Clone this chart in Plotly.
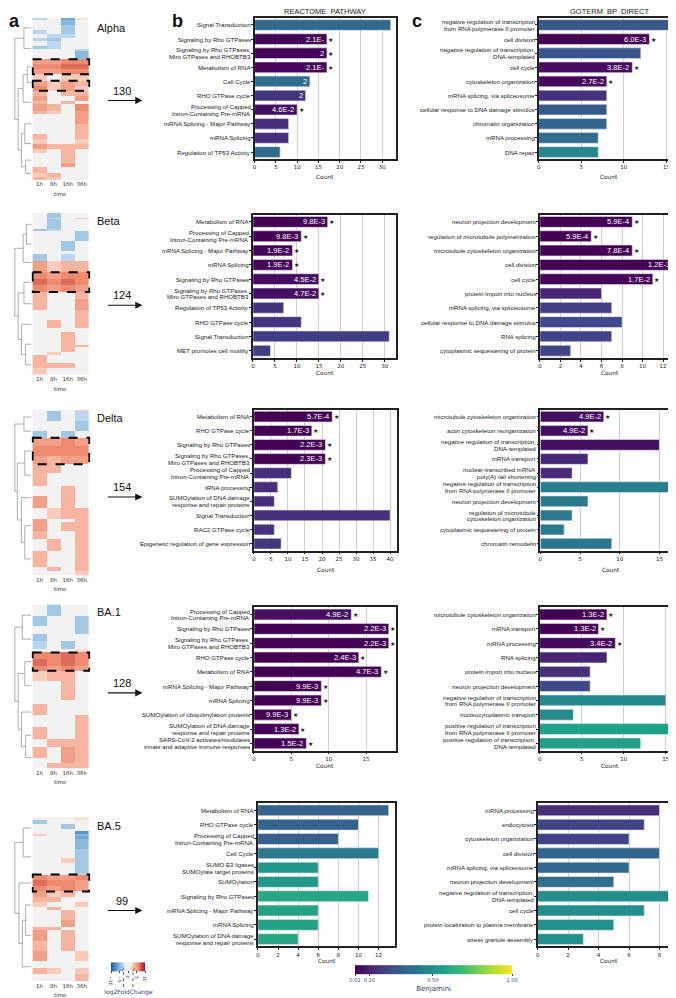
import plotly.graph_objects as go

W, H = 676, 998
def fx(p): return p / W
def fy(p): return 1 - p / H

FONT = "Liberation Sans, Arial, sans-serif"
DFONT = "DejaVu Sans, sans-serif"

variants = ["Alpha", "Beta", "Delta", "BA.1", "BA.5"]
cluster_sizes = [130, 124, 154, 128, 99]
time_labels = ["1h", "8h", "16h", "36h"]
benj_ticks = [0.01, 0.10, 0.50, 1.00]
fc_ticks = [-10, -5, 0, 5, 10]

# ---------------- REACTOME PATHWAY (panel b) ----------------
re_alpha_terms = ["Signal Transduction", "Signaling by Rho GTPases",
                  "Signaling by Rho GTPases,<br>Miro GTPases and RHOBTB3", "Metabolism of RNA",
                  "Cell Cycle", "RHO GTPase cycle", "Processing of Capped<br>Intron-Containing Pre-mRNA",
                  "mRNA Splicing - Major Pathway", "mRNA Splicing", "Regulation of TP53 Activity"]
re_alpha_count = [32, 17, 17, 17, 13, 12, 10, 8, 8, 6]
re_alpha_benj = [0.34, 0.021, 0.021, 0.021, 0.36, 0.16, 0.046, 0.14, 0.14, 0.35]
re_alpha_label = ["", "2.1E-", "2", "2.1E-", "2", "2", "4.6E-2", "", "", ""]
re_alpha_star = [0, 1, 1, 1, 0, 0, 1, 0, 0, 0]

re_beta_terms = ["Metabolism of RNA", "Processing of Capped<br>Intron-Containing Pre-mRNA",
                 "mRNA Splicing - Major Pathway", "mRNA Splicing", "Signaling by Rho GTPases",
                 "Signaling by Rho GTPases,<br>Miro GTPases and RHOBTB3", "Regulation of TP53 Activity",
                 "RHO GTPase cycle", "Signal Transduction", "MET promotes cell motility"]
re_beta_count = [17, 11, 9, 9, 15, 15, 7, 11, 31, 4]
re_beta_benj = [0.0098, 0.0098, 0.019, 0.019, 0.045, 0.047, 0.16, 0.16, 0.19, 0.19]
re_beta_label = ["9.8E-3", "9.8E-3", "1.9E-2", "1.9E-2", "4.5E-2", "4.7E-2", "", "", "", ""]
re_beta_star = [1, 1, 1, 1, 1, 1, 0, 0, 0, 0]

re_delta_terms = ["Metabolism of RNA", "RHO GTPase cycle", "Signaling by Rho GTPases",
                  "Signaling by Rho GTPases,<br>Miro GTPases and RHOBTB3",
                  "Processing of Capped<br>Intron-Containing Pre-mRNA", "tRNA processing",
                  "SUMOylation of DNA damage<br>response and repair proteins", "Signal Transduction",
                  "RAC2 GTPase cycle", "Epigenetic regulation of gene expression"]
re_delta_count = [23, 17, 21, 21, 11, 7, 6, 40, 6, 8]
re_delta_benj = [0.00057, 0.0017, 0.0022, 0.0023, 0.14, 0.14, 0.14, 0.15, 0.15, 0.17]
re_delta_label = ["5.7E-4", "1.7E-3", "2.2E-3", "2.3E-3", "", "", "", "", "", ""]
re_delta_star = [1, 1, 1, 1, 0, 0, 0, 0, 0, 0]

re_ba1_terms = ["Processing of Capped<br>Intron-Containing Pre-mRNA", "Signaling by Rho GTPases",
                "Signaling by Rho GTPases,<br>Miro GTPases and RHOBTB3", "RHO GTPase cycle",
                "Metabolism of RNA", "mRNA Splicing - Major Pathway", "mRNA Splicing",
                "SUMOylation of ubiquitinylation proteins",
                "SUMOylation of DNA damage<br>response and repair proteins",
                "SARS-CoV-2 activates/modulates<br>innate and adaptive immune responses"]
re_ba1_count = [13, 18, 18, 14, 17, 9, 9, 5, 6, 7]
re_ba1_benj = [0.049, 0.0022, 0.0022, 0.0024, 0.0047, 0.0099, 0.0099, 0.0099, 0.013, 0.015]
re_ba1_label = ["4.9E-2", "2.2E-3", "2.2E-3", "2.4E-3", "4.7E-3", "9.9E-3", "9.9E-3", "9.9E-3",
                "1.3E-2", "1.5E-2"]
re_ba1_star = [1, 1, 1, 1, 1, 1, 1, 1, 1, 1]

re_ba5_terms = ["Metabolism of RNA", "RHO GTPase cycle",
                "Processing of Capped<br>Intron-Containing Pre-mRNA", "Cell Cycle",
                "SUMO E3 ligases<br>SUMOylate target proteins", "SUMOylation", "Signaling by Rho GTPases",
                "mRNA Splicing - Major Pathway", "mRNA Splicing",
                "SUMOylation of DNA damage<br>response and repair proteins"]
re_ba5_count = [13, 10, 8, 12, 6, 6, 11, 6, 6, 4]
re_ba5_benj = [0.32, 0.32, 0.30, 0.41, 0.54, 0.54, 0.60, 0.58, 0.58, 0.60]
re_ba5_label = [""] * 10
re_ba5_star = [0] * 10

# ---------------- GOTERM BP DIRECT (panel c) ----------------
go_alpha_terms = ["negative regulation of transcription<br>from RNA polymerase II promoter", "cell division",
                  "negative regulation of transcription,<br>DNA-templated", "cell cycle",
                  "cytoskeleton organization", "mRNA splicing, via spliceosome",
                  "cellular response to DNA damage stimulus", "chromatin organization", "mRNA processing",
                  "DNA repair"]
go_alpha_count = [16, 13, 12, 11, 8, 8, 8, 8, 7, 7]
go_alpha_benj = [0.28, 0.006, 0.27, 0.038, 0.027, 0.15, 0.29, 0.33, 0.36, 0.47]
go_alpha_label = ["", "6.0E-3", "", "3.8E-2", "2.7E-2", "", "", "", "", ""]
go_alpha_star = [0, 1, 0, 1, 1, 0, 0, 0, 0, 0]

go_beta_terms = ["neuron projection development", "regulation of microtubule polymerization",
                 "microtubule cytoskeleton organization", "cell division", "cell cycle",
                 "protein import into nucleus", "mRNA splicing, via spliceosome",
                 "cellular response to DNA damage stimulus", "RNA splicing",
                 "cytoplasmic sequestering of protein"]
go_beta_count = [9, 5, 9, 13, 11, 6, 7, 8, 7, 3]
go_beta_benj = [0.00059, 0.00059, 0.00078, 0.0012, 0.017, 0.11, 0.20, 0.23, 0.21, 0.22]
go_beta_label = ["5.9E-4", "5.9E-4", "7.8E-4", "1.2E-3", "1.7E-2", "", "", "", "", ""]
go_beta_star = [1, 1, 1, 1, 1, 0, 0, 0, 0, 0]

go_delta_terms = ["microtubule cytoskeleton organization", "actin cytoskeleton reorganization",
                  "negative regulation of transcription,<br>DNA-templated", "mRNA transport",
                  "nuclear-transcribed mRNA<br>poly(A) tail shortening",
                  "negative regulation of transcription<br>from RNA polymerase II promoter",
                  "neuron projection development",
                  "regulation of microtubule<br>cytoskeleton organization",
                  "cytoplasmic sequestering of protein", "chromatin remodelin"]
go_delta_count = [8, 6, 15, 6, 4, 17, 6, 4, 3, 9]
go_delta_benj = [0.049, 0.049, 0.05, 0.12, 0.13, 0.43, 0.41, 0.41, 0.41, 0.40]
go_delta_label = ["4.9E-2", "4.9E-2", "", "", "", "", "", "", "", ""]
go_delta_star = [1, 1, 0, 0, 0, 0, 0, 0, 0, 0]

go_ba1_terms = ["microtubule cytoskeleton organization", "mRNA transport", "mRNA processing",
                "RNA splicing", "protein import into nucleus", "neuron projection development",
                "negative regulation of transcription<br>from RNA polymerase II promoter",
                "nucleocytoplasmic transport",
                "positive regulation of transcription<br>from RNA polymerase II promoter",
                "positive regulation of transcription,<br>DNA-templated"]
go_ba1_count = [8, 7, 9, 8, 6, 6, 15, 4, 16, 12]
go_ba1_benj = [0.013, 0.013, 0.034, 0.11, 0.14, 0.23, 0.48, 0.48, 0.57, 0.57]
go_ba1_label = ["1.3E-2", "1.3E-2", "3.4E-2", "", "", "", "", "", "", ""]
go_ba1_star = [1, 1, 1, 0, 0, 0, 0, 0, 0, 0]

go_ba5_terms = ["mRNA processing", "endocytosis", "cytoskeleton organization", "cell division",
                "mRNA splicing, via spliceosome", "neuron projection development",
                "negative regulation of transcription,<br>DNA-templated", "cell cycle",
                "protein localization to plasma membrane", "stress granule assembly"]
go_ba5_count = [8, 7, 6, 8, 6, 5, 9, 7, 5, 3]
go_ba5_benj = [0.14, 0.21, 0.21, 0.33, 0.34, 0.37, 0.50, 0.50, 0.51, 0.51]
go_ba5_label = [""] * 10
go_ba5_star = [0] * 10

# ---------------- heatmaps: runs of (rows, 1h, 8h, 16h, 36h) log2FC ----------------
hm_alpha = [(1, -3, 0, -6, 2), (3, -2, 0, -5, 0), (3, 0, 0, -4, 0), (3, -3, 0, -4, 0), (2, 0, -3, -3, 0),
            (2, -3, -4, 0, 0), (3, 0, -3, 0, 0), (2, -4, -3, 0, 0), (1, -2, 0, 0, -3), (5, 0, 0, 0, -5),
            (3, 5, 5, 6, 6), (3, 6, 6, 7, 7), (3, 5, 5, 6, 6), (4, 3, 0, 3, 3), (3, 5, 3, 5, 4),
            (3, 6, 3, 5, 3), (3, 4, 0, 4, 4), (3, 5, 0, 0, 5), (2, 4, 0, 4, 0), (4, 5, 4, 0, 6),
            (2, 4, 3, 0, 5), (6, 0, 0, 0, 5), (6, 0, 0, 0, 4), (3, 4, 0, 0, 4), (3, 3, 0, 0, 3),
            (3, 5, 4, 4, 4), (3, 3, 0, 4, 0), (6, 0, 0, 4, 0), (2, 0, 0, 5, 0), (4, 4, 0, 0, 0),
            (2, 3, 4, 0, 0), (2, 4, 3, 0, 0)]
hm_beta = [(3, 0, -4, -2, 0), (1, 0, -3, 0, 3), (6, 0, -4, 0, 0), (1, -4, -3, 0, 0), (6, 0, 0, 0, -4),
           (6, 0, 0, -4, 0), (2, -2, 0, -2, 0), (4, -4, 0, -3, 0), (7, 5, 3, 4, 4),
           (4, 6, 5, 6, 6), (4, 7, 6, 7, 6), (4, 6, 5, 6, 5),
           (4, 4, 0, 0, 4), (7, 4, 0, 0, 5), (6, 0, 0, 0, 4), (5, 0, 4, 0, 4), (2, 0, 0, 0, 0),
           (8, 0, 0, 4, 0), (1, 0, 0, 4, 4), (3, 0, 0, 4, 0), (2, 0, 3, 0, 0), (5, 4, 0, 0, 0),
           (3, 4, 4, 4, 0), (4, 3, 0, 0, 0)]
hm_delta = [(1, 0, 0, 0, 3), (6, 0, -4, 0, -3), (6, 0, 0, 0, -4), (4, -4, 0, -4, 0),
            (5, 5, 5, 6, 5), (6, 6, 6, 6, 6), (5, 5, 4, 5, 5),
            (5, 4, 4, 0, 0), (8, 4, 0, 0, 0), (6, 0, 0, 4, 0), (7, 5, 0, 4, 0), (7, 0, 3, 4, 4),
            (2, 5, 0, 0, 4), (5, 5, 0, 4, 4), (5, 4, 0, 0, 4), (7, 0, 4, 0, 4), (10, 4, 0, 0, 4),
            (2, 0, 4, 0, 4), (3, 0, 0, 0, 3)]
hm_ba1 = [(7, 0, -4, -1, 0), (6, -4, 0, 0, -4), (5, 0, 0, 0, -4), (4, -4, 0, 0, 0), (5, -3, 0, -4, 0),
          (2, 0, 0, 0, 2),
          (4, 6, 6, 7, 6), (4, 7, 6, 7, 6), (3, 6, 5, 6, 5),
          (6, 3, 4, 4, 0), (12, 0, 0, 4, 0), (2, 0, 0, 0, 0), (7, 4, 0, 0, 0), (7, 0, 0, 0, 4),
          (7, 4, 0, 0, 4), (5, 0, 4, 4, 4), (7, 4, 0, 5, 4), (3, 0, 0, 5, 4), (3, 0, 4, 4, 4)]
hm_ba5 = [(2, -2, -2, 0, 2), (2, -4, 0, -2, 0), (3, 0, 0, -4, 0), (1, -2, 0, 0, 0), (2, 0, 0, 0, -7),
          (1, 3, 0, 0, -5), (2, 0, 0, 0, -6), (6, 0, 0, 0, -5), (5, 0, 0, 0, -4), (3, 0, 0, 3, -4),
          (6, 0, 0, 0, -4), (1, -2, -2, -2, -3),
          (3, 6, 5, 5, 6), (4, 7, 6, 6, 5), (3, 6, 5, 6, 5),
          (3, 5, 3, 4, 0), (3, 4, 4, 0, 0), (3, 3, 0, 0, 3), (2, 0, 4, 0, 0), (6, 0, 0, 4, 0),
          (4, 0, 0, 5, 0), (2, 4, 4, 0, 0), (6, 5, 0, 4, 0), (6, 4, 0, 4, 0), (6, 5, 0, 0, 3),
          (4, 0, 0, 0, 0), (4, 4, 3, 0, 3), (4, 0, 0, 0, 4)]

# dashed cluster boxes (first row, last row)
box_alpha = [(25, 33), (38, 43)]
box_beta = [(36, 47)]
box_delta = [(17, 32)]
box_ba1 = [(29, 39)]
box_ba5 = [(34, 43)]

# dendrograms: leaf group boundaries (rows) and tree (height, left, right)
dg_alpha = [0, 12, 25, 34, 44, 58, 70, 82, 90, 98]
tr_alpha = (1.0, (0.45, 0, 1), (0.8, (0.5, (0.25, 2, 3), 4), (0.6, (0.4, 5, 6), (0.35, 7, 8))))
dg_beta = [0, 14, 24, 36, 48, 62, 73, 86, 98]
tr_beta = (1.0, (0.5, (0.3, 0, 1), 2), (0.8, (0.45, 3, 4), (0.6, 5, (0.35, 6, 7))))
dg_delta = [0, 9, 17, 33, 46, 60, 80, 100]
tr_delta = (1.0, (0.45, 0, 1), (0.85, (0.4, 2, 3), (0.6, 4, (0.4, 5, 6))))
dg_ba1 = [0, 13, 29, 40, 58, 72, 86, 99]
tr_ba1 = (1.0, (0.55, 0, 1), (0.8, (0.4, 2, 3), (0.6, 4, (0.35, 5, 6))))
dg_ba5 = [0, 13, 34, 44, 60, 80, 97]
tr_ba5 = (1.0, (0.5, 0, 1), (0.75, 2, (0.55, (0.35, 3, 4), 5)))

# ---------------- assemble ----------------
data_rows = [
    dict(re=(re_alpha_terms, re_alpha_count, re_alpha_benj, re_alpha_label, re_alpha_star),
         go=(go_alpha_terms, go_alpha_count, go_alpha_benj, go_alpha_label, go_alpha_star),
         hm=hm_alpha, box=box_alpha, dg=dg_alpha, tr=tr_alpha),
    dict(re=(re_beta_terms, re_beta_count, re_beta_benj, re_beta_label, re_beta_star),
         go=(go_beta_terms, go_beta_count, go_beta_benj, go_beta_label, go_beta_star),
         hm=hm_beta, box=box_beta, dg=dg_beta, tr=tr_beta),
    dict(re=(re_delta_terms, re_delta_count, re_delta_benj, re_delta_label, re_delta_star),
         go=(go_delta_terms, go_delta_count, go_delta_benj, go_delta_label, go_delta_star),
         hm=hm_delta, box=box_delta, dg=dg_delta, tr=tr_delta),
    dict(re=(re_ba1_terms, re_ba1_count, re_ba1_benj, re_ba1_label, re_ba1_star),
         go=(go_ba1_terms, go_ba1_count, go_ba1_benj, go_ba1_label, go_ba1_star),
         hm=hm_ba1, box=box_ba1, dg=dg_ba1, tr=tr_ba1),
    dict(re=(re_ba5_terms, re_ba5_count, re_ba5_benj, re_ba5_label, re_ba5_star),
         go=(go_ba5_terms, go_ba5_count, go_ba5_benj, go_ba5_label, go_ba5_star),
         hm=hm_ba5, box=box_ba5, dg=dg_ba5, tr=tr_ba5),
]

# layout geometry in pixels
geom = [
    dict(frame=(10, 152), heat=(10, 173), b=(245.7, 388, 33.3, 5), c=(531, 673, 16.6, 5),
         arrow=93, lab=20, cnt=18),
    dict(frame=(208, 352), heat=(206, 369), b=(244, 388, 32.6, 5), c=(532.3, 674, 13.75, 2),
         arrow=299, lab=214, cnt=15),
    dict(frame=(404, 546), heat=(404, 571), b=(245, 389, 42.1, 5), c=(532.7, 675, 17.85, 5),
         arrow=492, lab=412, cnt=19),
    dict(frame=(603, 747), heat=(600, 765), b=(245, 388, 19.0, 5), c=(532, 674, 16.8, 5),
         arrow=689, lab=608, cnt=16),
    dict(frame=(800, 944), heat=(814, 979), b=(249, 387, 13.66, 2), c=(530, 673, 9.35, 2),
         arrow=908, lab=823, cnt=15),
]

def an(k, a):
    return f"{a}axis" if k == 1 else f"{a}axis{k}"
def rf(k, a):
    return a if k == 1 else f"{a}{k}"

def expand(runs):
    z = []
    for r in runs:
        for _ in range(r[0]):
            z.append(list(r[1:]))
    return z

def dendro(groups, tree):
    xs, ys = [], []
    def walk(node):
        if isinstance(node, int):
            s, e = groups[node], groups[node + 1]
            return 0.0, (s + e - 1) / 2
        h, l, r = node
        x1, y1 = walk(l)
        x2, y2 = walk(r)
        xs.extend([x1, h, h, x2, None])
        ys.extend([y1, y1, y2, y2, None])
        return h, (y1 + y2) / 2
    walk(tree)
    return xs, ys

def ptext(text, x, y, size, family=FONT, color="#111", xanchor="center"):
    return dict(text=text, x=fx(x), y=fy(y), xref="paper", yref="paper", xanchor=xanchor,
                yanchor="middle", showarrow=False, font=dict(family=family, size=size, color=color))

fig = go.Figure()
lay = {}
anns = []
shapes = []

fc_scale = [[0.0, "#1b5aa5"], [0.2, "#6fa8d6"], [0.4, "#d6e7f4"], [0.4, "#f2f2f2"],
            [0.6, "#f2f2f2"], [0.6, "#fbe0d3"], [0.8, "#ee8a6d"], [1.0, "#a50f1f"]]

for i, (d, g) in enumerate(zip(data_rows, geom)):
    kh, kd, kb, kc = 4 * i + 1, 4 * i + 2, 4 * i + 3, 4 * i + 4
    # heatmap
    z = expand(d["hm"])
    n = len(z)
    fig.add_trace(go.Heatmap(z=z, x=time_labels, y=list(range(n)), coloraxis="coloraxis2",
                             xaxis=rf(kh, "x"), yaxis=rf(kh, "y"), hoverinfo="skip"))
    ht, hb = g["heat"]
    lay[an(kh, "x")] = dict(domain=[fx(21.7), fx(80.7)], anchor=rf(kh, "y"), showgrid=False,
                            zeroline=False, ticks="", tickfont=dict(family=DFONT, size=5.5, color="#333"),
                            showline=False)
    lay[an(kh, "y")] = dict(domain=[fy(hb), fy(ht)], anchor=rf(kh, "x"), range=[n - 0.5, -0.5],
                            showticklabels=False, showgrid=False, zeroline=False, ticks="")
    for (s, e) in d["box"]:
        shapes.append(dict(type="rect", xref=rf(kh, "x"), yref=rf(kh, "y"), x0=-0.5, x1=3.55,
                           y0=s - 0.5, y1=e + 0.5, line=dict(color="black", width=2, dash="dash")))
    anns.append(ptext("time", 51, hb + 14, 5.5, DFONT, "#333"))
    # dendrogram
    xs, ys = dendro(d["dg"], d["tr"])
    fig.add_trace(go.Scatter(x=xs, y=ys, mode="lines", line=dict(color="#9a9a9a", width=0.8),
                             xaxis=rf(kd, "x"), yaxis=rf(kd, "y"), hoverinfo="skip", showlegend=False))
    lay[an(kd, "x")] = dict(domain=[fx(4), fx(21.5)], anchor=rf(kd, "y"), range=[1.05, 0], visible=False)
    lay[an(kd, "y")] = dict(domain=[fy(hb), fy(ht)], anchor=rf(kd, "x"), range=[n - 0.5, -0.5], visible=False)
    # labels / arrows
    anns.append(ptext(variants[i], 85, g["lab"], 11, xanchor="left"))
    anns.append(ptext(str(cluster_sizes[i]), 112, g["arrow"] - 10, 11))
    anns.append(dict(text="", x=fx(133), y=fy(g["arrow"]), ax=-36, ay=0,
                     xref="paper", yref="paper", showarrow=True,
                     arrowhead=2, arrowsize=1.3, arrowwidth=1.1, arrowcolor="#111"))
    # bar panels
    ft, fb = g["frame"]
    for key, k, geo in (("re", kb, g["b"]), ("go", kc, g["c"])):
        terms, cnt, benj, lab, star = d[key]
        x0, x1, xmax, dt = geo
        fig.add_trace(go.Bar(x=cnt, y=terms, orientation="h", width=0.76,
                             marker=dict(color=benj, coloraxis="coloraxis",
                                         line=dict(color="#e6e6ee", width=0.6)),
                             xaxis=rf(k, "x"), yaxis=rf(k, "y"), hoverinfo="skip", showlegend=False))
        lay[an(k, "x")] = dict(domain=[fx(x0), fx(x1)], anchor=rf(k, "y"), range=[0, xmax],
                               tick0=0, dtick=dt, showgrid=True, gridcolor="#cfcfcf", gridwidth=1,
                               zeroline=False, showline=True, mirror=True, linecolor="#222",
                               linewidth=1.5, ticks="outside", ticklen=2, tickcolor="#222",
                               tickfont=dict(family=DFONT, size=5.5, color="#222"))
        lay[an(k, "y")] = dict(domain=[fy(fb), fy(ft)], anchor=rf(k, "x"), range=[9.5, -0.5],
                               tickmode="array", tickvals=terms, showticklabels=False,
                               showgrid=False, zeroline=False,
                               showline=True, mirror=True, linecolor="#222", linewidth=1.5,
                               ticks="outside", ticklen=2, tickcolor="#222")
        for t, c, l, s in zip(terms, cnt, lab, star):
            # category label lines with tight line spacing
            parts = t.split("<br>")
            shifts = [0] if len(parts) == 1 else [3.4, -3.4]
            for part, sh in zip(parts, shifts):
                anns.append(dict(text=part, x=0, y=t, xref=rf(k, "x"), yref=rf(k, "y"),
                                 xanchor="right", yanchor="middle", xshift=-3, yshift=sh,
                                 borderpad=0, showarrow=False,
                                 font=dict(family=FONT, size=6.1, color="#222")))
            if l:
                anns.append(dict(text=l, x=c, y=t, xref=rf(k, "x"), yref=rf(k, "y"), xanchor="right",
                                 yanchor="middle", xshift=-1, showarrow=False,
                                 font=dict(family=FONT, size=7.5, color="white")))
            if s:
                anns.append(dict(text="★", x=c, y=t, xref=rf(k, "x"), yref=rf(k, "y"), xanchor="left",
                                 yanchor="middle", xshift=0.5, showarrow=False, borderpad=0,
                                 font=dict(family=DFONT, size=6, color="#222")))
        anns.append(ptext("Count", (x0 + x1) / 2, fb + g["cnt"], 5.8, DFONT, "#222"))

# titles and panel letters
anns.append(ptext("REACTOME  PATHWAY", 316, 4, 7.5, FONT, "#222"))
anns.append(ptext("GOTERM  BP  DIRECT", 602, 4, 7.5, FONT, "#222"))
for letter, lx, ly in (("a", 5, 13), ("b", 168, 13), ("c", 409, 13)):
    anns.append(ptext(f"<b>{letter}</b>", lx, ly, 18))

# fold-change colorbar marks
anns.append(ptext("-2", 113, 967, 4.5, DFONT, "#333"))
anns.append(ptext("2", 124, 967, 4.5, DFONT, "#333"))
for xv in (114, 123.5):
    shapes.append(dict(type="line", xref="paper", yref="paper", x0=fx(xv), x1=fx(xv), y0=fy(970),
                       y1=fy(986), line=dict(color="#333", width=0.8, dash="dot")))

fig.update_layout(
    width=W, height=H, margin=dict(l=0, r=0, t=0, b=0),
    paper_bgcolor="white", plot_bgcolor="white", showlegend=False,
    annotations=anns, shapes=shapes,
    coloraxis=dict(colorscale="Viridis", cmin=0.01, cmax=1.0,
                   colorbar=dict(orientation="h", x=fx(425.5), xanchor="center", y=fy(976.5),
                                 yanchor="middle", len=177, lenmode="pixels", thickness=9,
                                 thicknessmode="pixels", outlinewidth=0, tickmode="array",
                                 tickvals=benj_ticks, ticktext=["0.01", "0.10", "0.50", "1.00"],
                                 ticks="outside", ticklen=2, tickfont=dict(family=DFONT, size=5),
                                 title=dict(text="Benjamini", side="bottom",
                                            font=dict(family=DFONT, size=7)))),
    coloraxis2=dict(colorscale=fc_scale, cmin=-10, cmax=10,
                    colorbar=dict(orientation="h", x=fx(119), xanchor="center", y=fy(977),
                                  yanchor="middle", len=54, lenmode="pixels", thickness=9,
                                  thicknessmode="pixels", outlinewidth=0, tickmode="array",
                                  tickvals=fc_ticks, ticktext=["−10", "−5", "0", "5", "10"],
                                  ticks="outside", ticklen=2, tickfont=dict(family=DFONT, size=4.5),
                                  title=dict(text="log2FoldChange", side="bottom",
                                             font=dict(family=DFONT, size=6)))),
    **lay,
)

fig.write_html("out.html")
